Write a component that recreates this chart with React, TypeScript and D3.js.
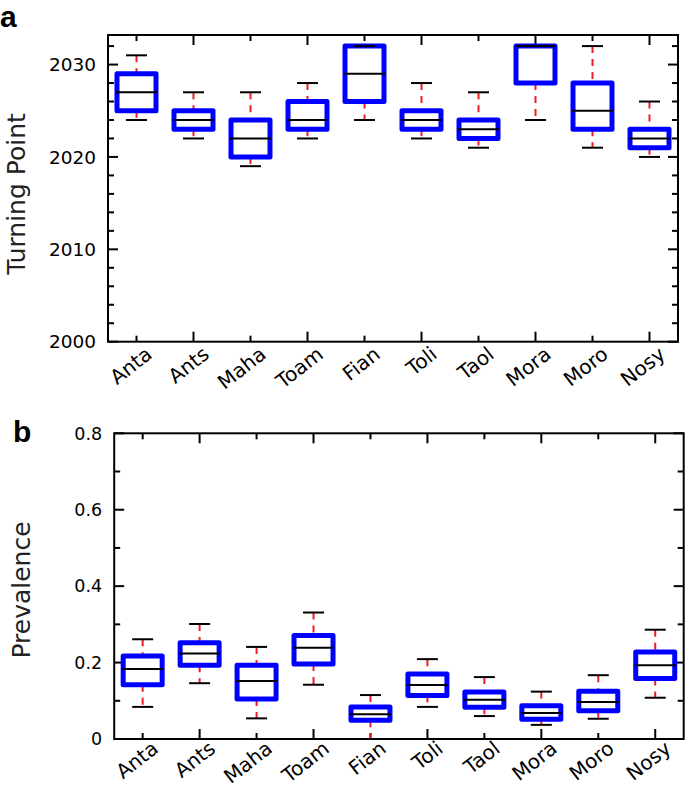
import React from "react";
import * as d3 from "d3";

const categories = ["Anta", "Ants", "Maha", "Toam", "Fian", "Toli", "Taol", "Mora", "Moro", "Nosy"];

// Panel a: Turning Point
const tpLow = [2024, 2022, 2019, 2022, 2024, 2022, 2021, 2024, 2021, 2020];
const tpQ1 = [2025, 2023, 2020, 2023, 2026, 2023, 2022, 2028, 2023, 2021];
const tpMed = [2027, 2024, 2022, 2024, 2029, 2024, 2023, 2032, 2025, 2022];
const tpQ3 = [2029, 2025, 2024, 2026, 2032, 2025, 2024, 2032, 2028, 2023];
const tpHigh = [2031, 2027, 2027, 2028, 2032, 2028, 2027, 2032, 2032, 2026];

// Panel b: Prevalence
const pvLow = [0.084, 0.146, 0.054, 0.142, 0.0, 0.084, 0.06, 0.037, 0.053, 0.108];
const pvQ1 = [0.142, 0.193, 0.105, 0.196, 0.049, 0.114, 0.083, 0.052, 0.074, 0.158];
const pvMed = [0.183, 0.224, 0.152, 0.239, 0.065, 0.141, 0.103, 0.068, 0.097, 0.193];
const pvQ3 = [0.217, 0.252, 0.193, 0.271, 0.084, 0.17, 0.123, 0.087, 0.125, 0.228];
const pvHigh = [0.261, 0.301, 0.241, 0.331, 0.115, 0.209, 0.162, 0.124, 0.167, 0.286];

const tpTicks = d3.range(2000, 2033, 2);
const tpLabels = ["2000", "2010", "2020", "2030"];
const pvTicks = d3.range(0, 9).map((d) => d / 10);
const pvLabels = ["0", "0.2", "0.4", "0.6", "0.8"];

const FONT = "'DejaVu Sans', sans-serif";

type PanelProps = {
  left: number;
  right: number;
  top: number;
  bottom: number;
  yDomain: [number, number];
  low: number[];
  q1: number[];
  med: number[];
  q3: number[];
  high: number[];
  ticks: number[];
  isMajor: (v: number) => boolean;
  labelOf: (v: number) => string | null;
  tickFont: number;
  xLabelDy: number;
  yLabel: string;
  yLabelX: number;
  yLabelY: number;
  letter: string;
  letterX: number;
  letterY: number;
};

function Panel(p: PanelProps) {
  const x = d3.scaleLinear().domain([0.5, categories.length + 0.5]).range([p.left, p.right]);
  const y = d3.scaleLinear().domain(p.yDomain).range([p.bottom, p.top]);
  const boxW = 39;
  const capW = 21;
  const medW = 41;
  const majorLen = 10;
  const minorLen = 6;
  return (
    <g>
      <text x={p.letterX} y={p.letterY} fontFamily="'Liberation Sans', Arial, sans-serif" fontWeight="bold" fontSize={30}>
        {p.letter}
      </text>
      <text
        transform={`translate(${p.yLabelX},${p.yLabelY}) rotate(-90)`}
        textAnchor="middle"
        fontFamily={FONT}
        fontSize={25}
        fill="#222"
      >
        {p.yLabel}
      </text>
      {/* y ticks */}
      {p.ticks.map((t, i) => {
        const len = p.isMajor(t) ? majorLen : minorLen;
        const yy = y(t);
        const lab = p.labelOf(t);
        return (
          <g key={"yt" + i}>
            <line x1={p.left} x2={p.left + len} y1={yy} y2={yy} stroke="#000" strokeWidth={2} />
            <line x1={p.right} x2={p.right - len} y1={yy} y2={yy} stroke="#000" strokeWidth={2} />
            {lab !== null && (
              <text x={p.left - 12} y={yy} dy="0.36em" textAnchor="end" fontFamily={FONT} fontSize={p.tickFont} fill="#000">
                {lab}
              </text>
            )}
          </g>
        );
      })}
      {/* x ticks */}
      {categories.map((c, i) => {
        const xx = x(i + 1);
        const len = i % 2 === 1 ? majorLen : minorLen;
        return (
          <g key={"xt" + i}>
            <line x1={xx} x2={xx} y1={p.bottom} y2={p.bottom - len} stroke="#000" strokeWidth={2} />
            <line x1={xx} x2={xx} y1={p.top} y2={p.top + len} stroke="#000" strokeWidth={2} />
            <text
              transform={`translate(${xx + 17},${p.bottom + p.xLabelDy}) rotate(-38)`}
              textAnchor="end"
              fontFamily={FONT}
              fontSize={20}
              fill="#000"
            >
              {c}
            </text>
          </g>
        );
      })}
      {/* boxes */}
      {categories.map((c, i) => {
        const xx = x(i + 1);
        return (
          <g key={"bx" + i}>
            <line x1={xx} x2={xx} y1={y(p.high[i])} y2={y(p.q3[i])} stroke="#ee1c24" strokeWidth={2} strokeDasharray="7,6" />
            <line x1={xx} x2={xx} y1={y(p.q1[i])} y2={y(p.low[i])} stroke="#ee1c24" strokeWidth={2} strokeDasharray="7,6" />
            <rect
              x={xx - boxW / 2}
              y={y(p.q3[i])}
              width={boxW}
              height={Math.max(0, y(p.q1[i]) - y(p.q3[i]))}
              fill="none"
              stroke="#0000ff"
              strokeWidth={5}
              strokeLinejoin="round"
            />
            <line x1={xx - capW / 2} x2={xx + capW / 2} y1={y(p.high[i])} y2={y(p.high[i])} stroke="#000" strokeWidth={2} />
            <line x1={xx - capW / 2} x2={xx + capW / 2} y1={y(p.low[i])} y2={y(p.low[i])} stroke="#000" strokeWidth={2} />
            <line x1={xx - medW / 2} x2={xx + medW / 2} y1={y(p.med[i])} y2={y(p.med[i])} stroke="#000" strokeWidth={2} />
          </g>
        );
      })}
      {/* frame */}
      <rect x={p.left} y={p.top} width={p.right - p.left} height={p.bottom - p.top} fill="none" stroke="#000" strokeWidth={2} />
    </g>
  );
}

export default function App() {
  return (
    <svg width={685} height={788} style={{ position: "absolute", left: 0, top: 0, background: "#fff" }}>
      <rect x={0} y={0} width={685} height={788} fill="#fff" />
      <Panel
        left={108}
        right={678}
        top={35}
        bottom={341.7}
        yDomain={[2000, 2033.2]}
        low={tpLow}
        q1={tpQ1}
        med={tpMed}
        q3={tpQ3}
        high={tpHigh}
        ticks={tpTicks}
        isMajor={(v) => v % 10 === 0}
        labelOf={(v) => (v % 10 === 0 ? tpLabels[(v - 2000) / 10] : null)}
        tickFont={18.5}
        xLabelDy={15}
        yLabel="Turning Point"
        yLabelX={25}
        yLabelY={194}
        letter="a"
        letterX={0}
        letterY={27}
      />
      <Panel
        left={114.2}
        right={683.7}
        top={433.3}
        bottom={739}
        yDomain={[0, 0.8]}
        low={pvLow}
        q1={pvQ1}
        med={pvMed}
        q3={pvQ3}
        high={pvHigh}
        ticks={pvTicks}
        isMajor={(v) => Math.round(v * 10) % 2 === 0}
        labelOf={(v) => (Math.round(v * 10) % 2 === 0 ? pvLabels[Math.round(v * 5)] : null)}
        tickFont={17.5}
        xLabelDy={12}
        yLabel="Prevalence"
        yLabelX={30}
        yLabelY={590}
        letter="b"
        letterX={13}
        letterY={442}
      />
    </svg>
  );
}
